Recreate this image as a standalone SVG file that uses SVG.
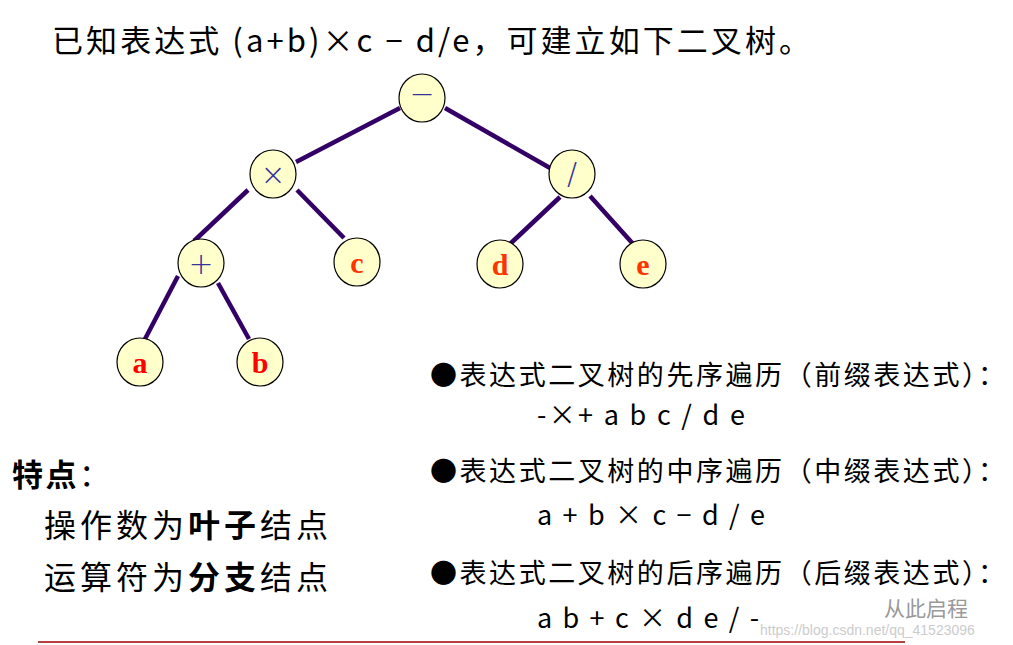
<svg xmlns="http://www.w3.org/2000/svg" width="1013" height="645" viewBox="0 0 1013 645">
<style>
.n{fill:#ffffcc;stroke:#000;stroke-width:1.2}
.op{font-family:"DejaVu Sans",sans-serif;font-size:30px;font-weight:200;fill:#333399;text-anchor:middle}
.lf{font-family:"Liberation Serif",serif;font-weight:bold;font-size:30px;fill:#ff0000;text-anchor:middle}
.t{font-family:"Noto Sans CJK SC","Liberation Sans",sans-serif;fill:#000}
.e line{stroke:#330066;stroke-width:4.5}
</style>
<rect width="1013" height="645" fill="#fff"/>
<text class="t" x="52" y="52" font-size="31" textLength="758" lengthAdjust="spacing">已知表达式 (a+b)×c − d/e，可建立如下二叉树。</text>
<g class="e" id="edges">
<line x1="400" y1="108" x2="296" y2="162"/>
<line x1="445" y1="108" x2="550" y2="168"/>
<line x1="248" y1="190" x2="194" y2="241"/>
<line x1="297" y1="190" x2="344" y2="238"/>
<line x1="560" y1="197" x2="510" y2="244"/>
<line x1="590" y1="196" x2="634" y2="245"/>
<line x1="178" y1="276" x2="145" y2="339"/>
<line x1="218" y1="283" x2="249" y2="339"/>
</g>
<g id="n-minus"><ellipse class="n" cx="422" cy="98" rx="23" ry="24"/><text class="op" x="422" y="104" font-size="26">−</text></g>
<g id="n-times"><ellipse class="n" cx="273" cy="174" rx="23" ry="24"/><text class="op" x="273" y="185" font-size="34">×</text></g>
<g id="n-div"><ellipse class="n" cx="572" cy="174" rx="23" ry="24"/><text class="op" x="572" y="184">/</text></g>
<g id="n-plus"><ellipse class="n" cx="201" cy="263" rx="23" ry="24"/><text class="op" x="201" y="274" font-size="32">+</text></g>
<g id="n-c"><ellipse class="n" cx="357" cy="262" rx="23" ry="24"/><text class="lf" x="357" y="273" style="fill:#ff3300">c</text></g>
<g id="n-d"><ellipse class="n" cx="500" cy="264" rx="23" ry="24"/><text class="lf" x="500" y="275" style="fill:#ff3300">d</text></g>
<g id="n-e"><ellipse class="n" cx="643" cy="264" rx="23" ry="24"/><text class="lf" x="643" y="275" style="fill:#ff3300">e</text></g>
<g id="n-a"><ellipse class="n" cx="140" cy="362" rx="23" ry="24"/><text class="lf" x="140" y="373">a</text></g>
<g id="n-b"><ellipse class="n" cx="260" cy="362" rx="23" ry="24"/><text class="lf" x="260" y="373">b</text></g>
<text class="t" x="430" y="385" font-size="27" textLength="575" lengthAdjust="spacing">●表达式二叉树的先序遍历（前缀表达式）：</text>
<text class="t" x="537" y="425" font-size="27" textLength="208" lengthAdjust="spacing">-×+ a b c / d e</text>
<text class="t" x="430" y="481" font-size="27" textLength="575" lengthAdjust="spacing">●表达式二叉树的中序遍历（中缀表达式）：</text>
<text class="t" x="537" y="525" font-size="27" textLength="228" lengthAdjust="spacing">a + b × c − d / e</text>
<text class="t" x="430" y="583" font-size="27" textLength="575" lengthAdjust="spacing">●表达式二叉树的后序遍历（后缀表达式）：</text>
<text class="t" x="537" y="628" font-size="27" textLength="222" lengthAdjust="spacing">a b + c × d e / -</text>
<text class="t" x="12" y="486" font-size="31" textLength="98" lengthAdjust="spacing"><tspan font-weight="bold">特点</tspan>：</text>
<text class="t" x="44" y="537" font-size="32" textLength="284" lengthAdjust="spacing">操作数为<tspan font-weight="bold">叶子</tspan>结点</text>
<text class="t" x="44" y="589" font-size="32" textLength="284" lengthAdjust="spacing">运算符为<tspan font-weight="bold">分支</tspan>结点</text>
<text class="t" x="884" y="616" font-size="21" style="fill:#999">从此启程</text>
<text x="760" y="635" font-family="Liberation Sans,sans-serif" font-size="14" fill="#ccc">https://blog.csdn.net/qq_41523096</text>
<line x1="38" y1="642" x2="905" y2="642" stroke="#a00000" stroke-width="1.5"/>
</svg>
